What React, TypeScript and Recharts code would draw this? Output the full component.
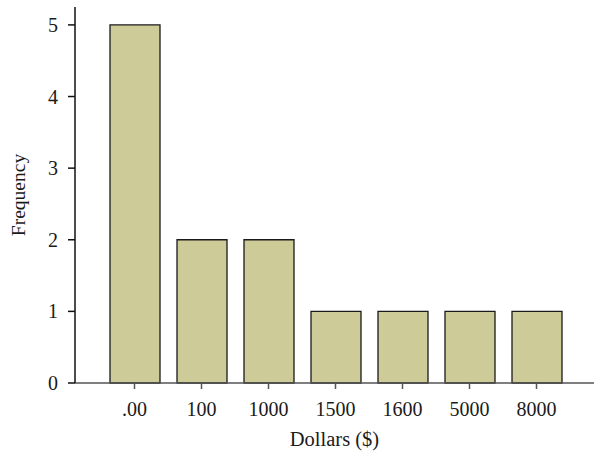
import React from "react";
import { BarChart, Bar, XAxis, YAxis } from "recharts";

const categories = [".00", "100", "1000", "1500", "1600", "5000", "8000"];
const frequency = [5, 2, 2, 1, 1, 1, 1];
const yTicks = [0, 1, 2, 3, 4, 5];

const data = categories.map((c, i) => ({ dollars: c, count: frequency[i] }));

const FONT = "'Liberation Serif', 'DejaVu Serif', serif";
const TEXT = "#1a1a1a";

function YLabel({ viewBox }: any) {
  const cx = viewBox.x + 18;
  const cy = viewBox.y + viewBox.height / 2;
  return (
    <text
      x={cx}
      y={cy}
      transform={`rotate(-90 ${cx} ${cy})`}
      textAnchor="middle"
      dominantBaseline="central"
      fontFamily={FONT}
      fontSize={19.5}
      fill={TEXT}
    >
      Frequency
    </text>
  );
}

function XLabel({ viewBox }: any) {
  const cx = viewBox.x + viewBox.width / 2;
  return (
    <text
      x={cx}
      y={viewBox.y + 63}
      textAnchor="middle"
      fontFamily={FONT}
      fontSize={20.5}
      fill={TEXT}
    >
      Dollars ($)
    </text>
  );
}

export default function App() {
  return (
    <div style={{ position: "absolute", left: 0, top: 0, background: "#fff" }}>
      <BarChart
        width={594}
        height={453}
        data={data}
        margin={{ top: 7, right: 0, bottom: 0, left: 0 }}
      >
        <XAxis
          dataKey="dollars"
          height={70}
          padding={{ left: 26, right: 24 }}
          axisLine={{ stroke: "#555", strokeWidth: 1.5 }}
          tickLine={{ stroke: "#555", strokeWidth: 1.5 }}
          tickSize={6}
          tickMargin={13}
          tick={{ fontFamily: FONT, fontSize: 20, fill: TEXT }}
          label={<XLabel />}
        />
        <YAxis
          width={75}
          domain={[0, 5.25]}
          ticks={yTicks}
          allowDecimals={false}
          axisLine={{ stroke: "#111", strokeWidth: 1.5 }}
          tickLine={{ stroke: "#111", strokeWidth: 1.5 }}
          tickSize={7}
          tickMargin={10}
          tick={{ fontFamily: FONT, fontSize: 20, fill: TEXT }}
          label={<YLabel />}
        />
        <Bar
          dataKey="count"
          barSize={50}
          fill="#cdcb98"
          stroke="#1a1a1a"
          strokeWidth={1.3}
          isAnimationActive={false}
        />
      </BarChart>
    </div>
  );
}
